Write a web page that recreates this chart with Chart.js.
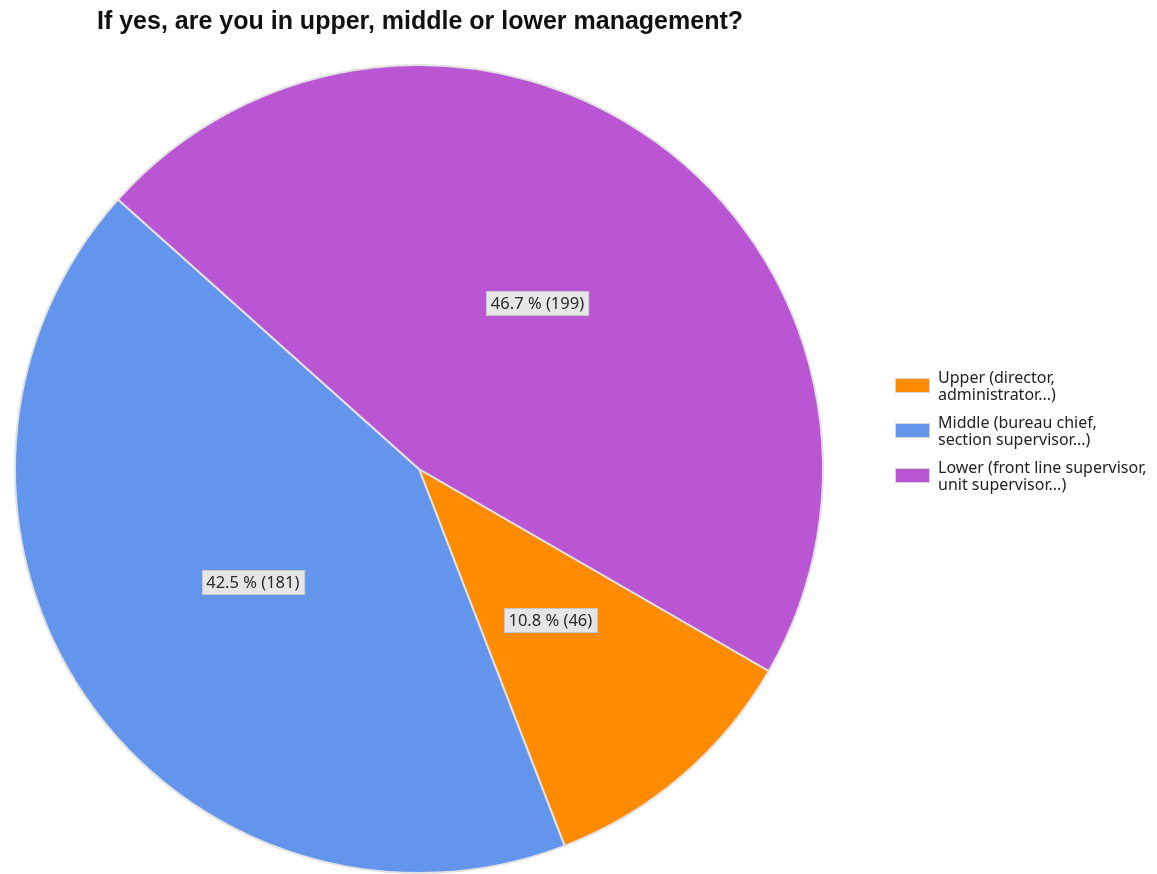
<!DOCTYPE html>
<html>
<head>
<meta charset="utf-8">
<title>Management level</title>
<script src="https://cdn.jsdelivr.net/npm/chart.js@4.4.1/dist/chart.umd.min.js"></script>
<style>
    html, body { margin: 0; padding: 0; background: #fff; }
    #wrap { position: relative; width: 1157px; height: 874px; }
</style>
</head>
<body>
<div id="wrap"><canvas id="mgmtPie" width="1157" height="874"></canvas></div>
<script>
// survey answers
const chartTitle = 'If yes, are you in upper, middle or lower management?';
const categories = [
    ['Upper (director,', 'administrator...)'],
    ['Middle (bureau chief,', 'section supervisor...)'],
    ['Lower (front line supervisor,', 'unit supervisor...)']
];
const counts = [46, 181, 199];
const sliceColors = ['#FF8C00', '#6495ED', '#BA55D3'];

const total = counts.reduce((a, b) => a + b, 0);

// title, legend and value boxes are drawn by hand
const decorPlugin = {
    id: 'decor',
    afterDatasetsDraw(chart) {
        const ctx = chart.ctx;
        const meta = chart.getDatasetMeta(0);

        ctx.save();
        ctx.font = '16.5px "Noto Sans", sans-serif';
        ctx.textBaseline = 'middle';
        ctx.textAlign = 'center';
        meta.data.forEach((arc, i) => {
            const pos = arc.tooltipPosition();
            const pct = (counts[i] / total * 100).toFixed(1);
            const text = `${pct} % (${counts[i]})`;
            const w = ctx.measureText(text).width + 9;
            const h = 24;
            const x = Math.round(pos.x - w / 2) + 0.5;
            const y = Math.round(pos.y - 2 - h / 2) + 0.5;
            ctx.fillStyle = '#e6e6e6';
            ctx.fillRect(x, y, w, h);
            ctx.strokeStyle = '#c8c8c8';
            ctx.lineWidth = 1;
            ctx.strokeRect(x, y, w, h);
            ctx.fillStyle = '#2a2a2a';
            ctx.fillText(text, pos.x, pos.y - 1);
        });
        ctx.restore();
    },
    afterDraw(chart) {
        const ctx = chart.ctx;
        ctx.save();

        ctx.fillStyle = '#111';
        ctx.font = 'bold 25px "Liberation Sans", Arial, sans-serif';
        ctx.textBaseline = 'alphabetic';
        ctx.textAlign = 'left';
        ctx.fillText(chartTitle, 97, 29);

        ctx.font = '16px "Noto Sans", sans-serif';
        ctx.textBaseline = 'middle';
        categories.forEach((lines, i) => {
            const top = 379 + i * 45;
            ctx.fillStyle = sliceColors[i];
            ctx.fillRect(896, top, 33, 13);
            ctx.strokeStyle = '#d4d4d4';
            ctx.lineWidth = 1;
            ctx.strokeRect(895.5, top - 0.5, 34, 14);
            ctx.fillStyle = '#222';
            lines.forEach((line, j) => {
                ctx.fillText(line, 938, top - 1 + j * 17);
            });
        });
        ctx.restore();
    }
};

new Chart(document.getElementById('mgmtPie'), {
    type: 'pie',
    data: {
        labels: categories.map(l => l.join(' ')),
        datasets: [{
            data: counts,
            backgroundColor: sliceColors,
            borderColor: '#e2e2e2',
            borderWidth: 2
        }]
    },
    options: {
        responsive: false,
        animation: false,
        rotation: 120,
        layout: {
            padding: { left: 14, top: 64, right: 333, bottom: 0 }
        },
        plugins: {
            legend: { display: false },
            tooltip: { enabled: false },
            title: { display: false }
        }
    },
    plugins: [decorPlugin]
});
</script>
</body>
</html>
